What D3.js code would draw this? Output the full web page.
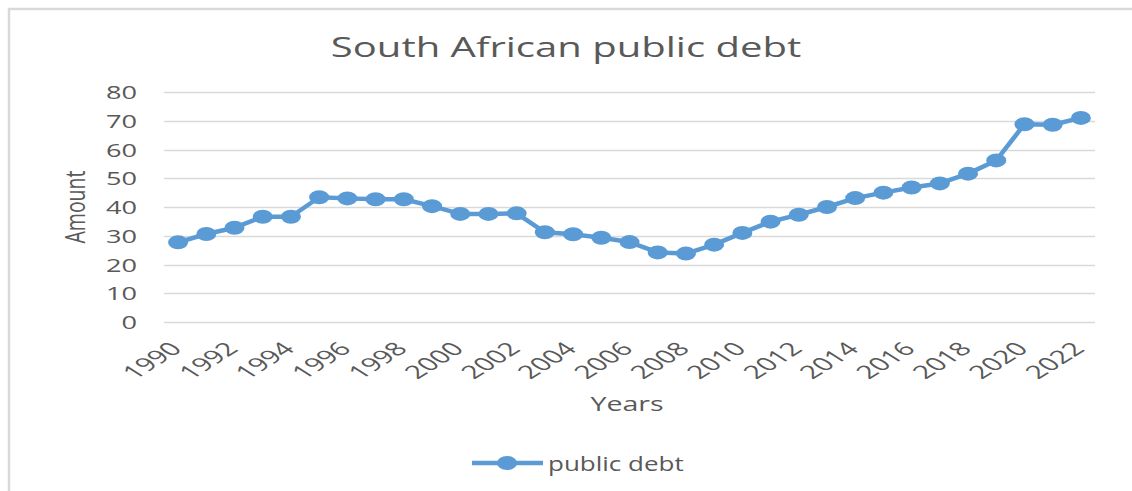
<!DOCTYPE html>
<html>
<head>
<meta charset="utf-8">
<script src="https://cdn.jsdelivr.net/npm/d3@7"></script>
<style>
  html, body { margin: 0; padding: 0; background: #fff; }
  text { font-family: "Open Sans", "DejaVu Sans", sans-serif; fill: #595959; }
</style>
</head>
<body>
<svg id="chart" width="1132" height="491"></svg>
<script>
const years = [1990, 1991, 1992, 1993, 1994, 1995, 1996, 1997, 1998, 1999, 2000,
    2001, 2002, 2003, 2004, 2005, 2006, 2007, 2008, 2009, 2010, 2011,
    2012, 2013, 2014, 2015, 2016, 2017, 2018, 2019, 2020, 2021, 2022];
const publicDebt = [27.7, 30.6, 32.8, 36.6, 36.6, 43.4, 43.0, 42.7, 42.7, 40.3, 37.6,
    37.6, 37.8, 31.2, 30.5, 29.3, 27.8, 24.2, 23.8, 26.9, 31.0, 34.9,
    37.3, 40.0, 43.1, 45.0, 46.8, 48.2, 51.6, 56.2, 68.8, 68.6, 71.0];
const yTicks = [0, 10, 20, 30, 40, 50, 60, 70, 80];
const xTickYears = [1990, 1992, 1994, 1996, 1998, 2000, 2002, 2004, 2006, 2008, 2010,
    2012, 2014, 2016, 2018, 2020, 2022];

const color = "#5b9bd5";
const sx = 1.43; // picture is stretched sideways

const svg = d3.select("#chart");

// frame
svg.append("path")
    .attr("d", "M9,491V9H1132")
    .attr("fill", "none")
    .attr("stroke", "#d9d9d9")
    .attr("stroke-width", 2.5);

const x = d3.scaleBand().domain(years).range([164, 1095]);
const y = d3.scaleLinear().domain([0, 80]).range([322, 92]);
const cx = d => x(d) + x.bandwidth() / 2;

// gridlines
svg.append("g")
    .selectAll("line")
    .data(yTicks)
    .join("line")
    .attr("x1", 164)
    .attr("x2", 1095)
    .attr("y1", d => Math.round(y(d)) + 0.5)
    .attr("y2", d => Math.round(y(d)) + 0.5)
    .attr("stroke", "#d9d9d9")
    .attr("stroke-width", 1.5);

// y tick labels
svg.append("g")
    .selectAll("text")
    .data(yTicks)
    .join("text")
    .attr("transform", d => `translate(137,${y(d) + 7}) scale(${sx},1)`)
    .attr("text-anchor", "end")
    .attr("font-size", 19)
    .text(d => d);

// x tick labels
svg.append("g")
    .selectAll("text")
    .data(xTickYears)
    .join("text")
    .attr("transform", d => `translate(${cx(d) + 5},350) scale(1.6,1) rotate(-45)`)
    .attr("text-anchor", "end")
    .attr("font-size", 18.5)
    .text(d => d);

// title and axis titles
svg.append("text")
    .attr("transform", `translate(566,57) scale(${sx},1)`)
    .attr("text-anchor", "middle")
    .attr("font-size", 28)
    .text("South African public debt");

svg.append("text")
    .attr("transform", `translate(627,411) scale(${sx},1)`)
    .attr("text-anchor", "middle")
    .attr("font-size", 20)
    .text("Years");

svg.append("text")
    .attr("transform", `translate(85,207) scale(${sx},1) rotate(-90)`)
    .attr("text-anchor", "middle")
    .attr("font-size", 19.5)
    .text("Amount");

// series
const line = d3.line()
    .x((d, i) => cx(years[i]))
    .y(d => y(d));

svg.append("path")
    .datum(publicDebt)
    .attr("d", line)
    .attr("fill", "none")
    .attr("stroke", color)
    .attr("stroke-width", 4.5)
    .attr("stroke-linejoin", "round");

svg.append("g")
    .selectAll("ellipse")
    .data(publicDebt)
    .join("ellipse")
    .attr("cx", (d, i) => cx(years[i]))
    .attr("cy", d => y(d))
    .attr("rx", 10)
    .attr("ry", 7)
    .attr("fill", color);

// legend
const legend = svg.append("g");
legend.append("line")
    .attr("x1", 472).attr("x2", 543)
    .attr("y1", 463).attr("y2", 463)
    .attr("stroke", color)
    .attr("stroke-width", 4.5);
legend.append("ellipse")
    .attr("cx", 507).attr("cy", 463)
    .attr("rx", 10).attr("ry", 7)
    .attr("fill", color);
legend.append("text")
    .attr("transform", `translate(548,471) scale(1.3,1)`)
    .attr("font-size", 20)
    .text("public debt");
</script>
</body>
</html>
